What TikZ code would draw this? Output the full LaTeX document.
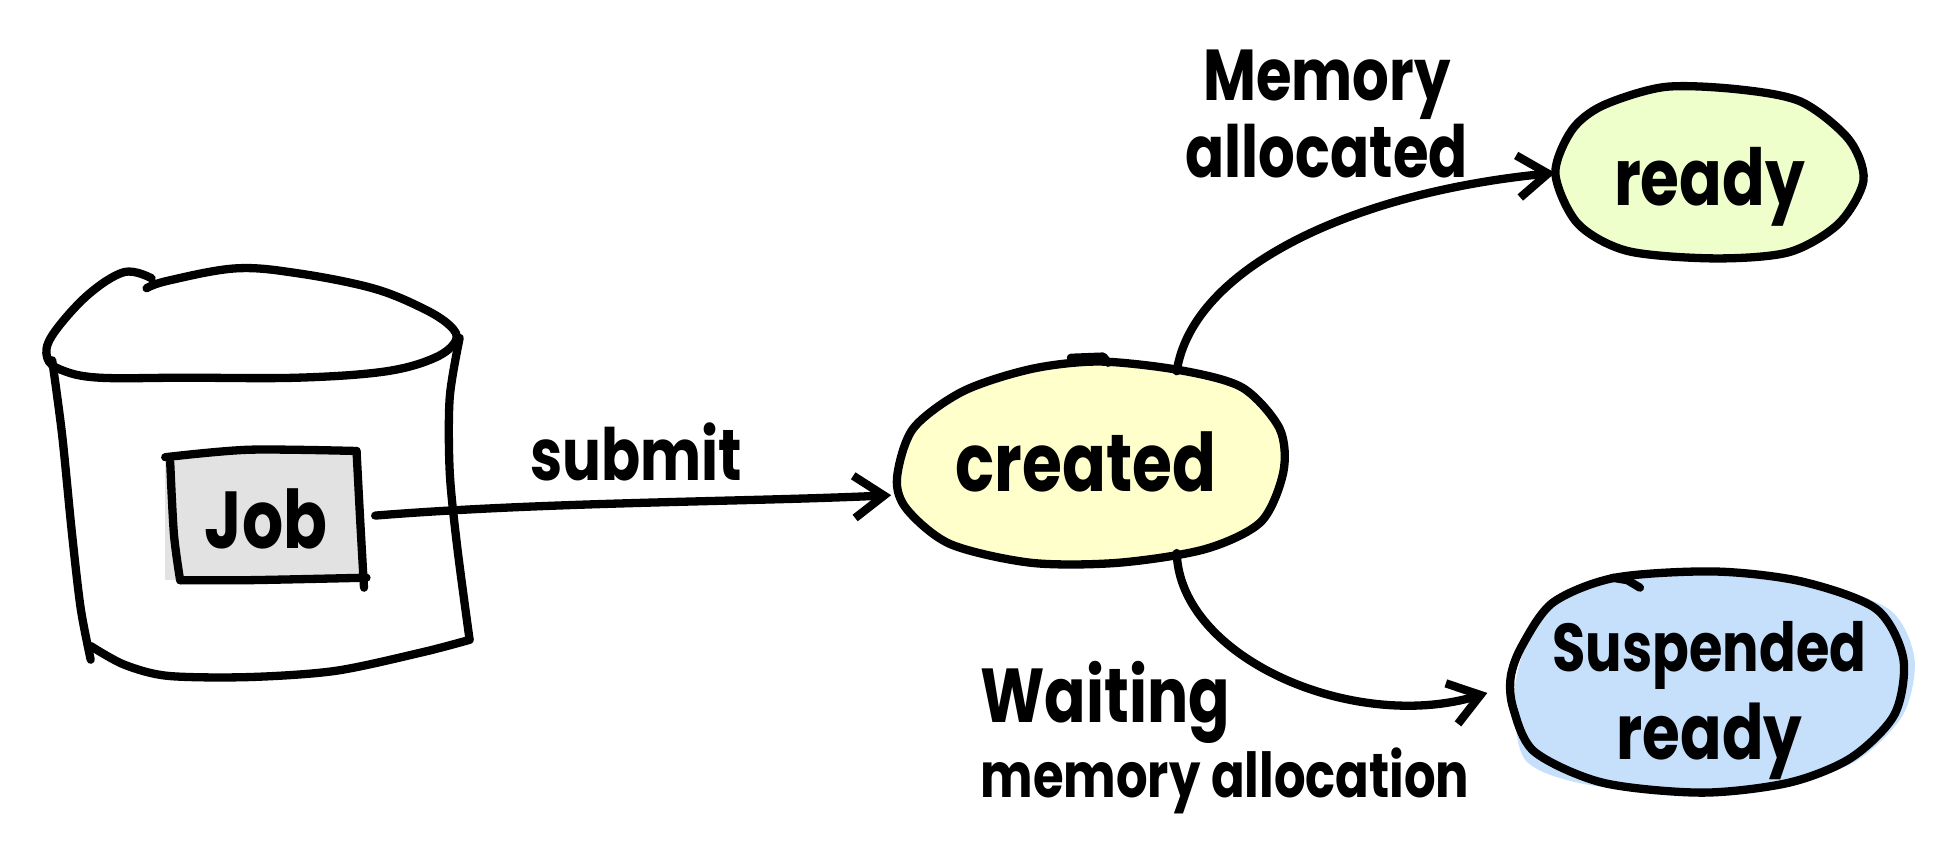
\documentclass[tikz,border=0pt]{standalone}
\usepackage{fontspec}
\setmainfont{Poppins}[FakeStretch=0.8]
\usepackage{tikz}
\usetikzlibrary{arrows.meta,shapes.geometric}
\definecolor{createdfill}{HTML}{FFFFCC}
\definecolor{readyfill}{HTML}{EEFFCC}
\definecolor{suspendfill}{HTML}{C6E0FB}
\definecolor{jobfill}{HTML}{E2E2E2}
\tikzset{
	ink/.style={line width=1.9pt, line cap=round, line join=round},
	statenode/.style={ellipse, inner sep=0pt, align=center, font=\fontsize{18.5}{20}\selectfont\bfseries},
	inklabel/.style={inner sep=0pt, font=\fontsize{16.5}{14.5}\selectfont\bfseries},
	arrowink/.style={ink, -{Straight Barb[length=2.4mm,width=3.4mm,line width=1.9pt]}}
}
\begin{document}
\begin{tikzpicture}[x=0.01cm, y=-0.01cm]
	\useasboundingbox (0,0) rectangle (1568,687);
	\draw[ink] plot[smooth, tension=0.6] coordinates {(118,232) (135,226) (190,216) (240,220) (300,232) (340,248) (362,262) (367,274) (350,288) (310,299) (240,304) (150,304) (80,304) (50,298) (38,288) (42,270) (70,238) (100,219) (122,224)};
	\draw[ink] plot[smooth] coordinates {(42,290) (50,350) (58,430) (65,490) (73,531)};
	\draw[ink] plot[smooth] coordinates {(73,520) (100,535) (135,544) (200,545) (270,540) (340,525) (378,515)};
	\draw[ink] plot[smooth] coordinates {(370,272) (362,320) (362,380) (368,440) (378,515)};
	\fill[createdfill] plot[smooth cycle] coordinates {(722,385) (735,345) (775,315) (830,297) (885,291) (950,298) (1000,312) (1030,345) (1033,380) (1015,420) (970,442) (900,453) (830,453) (765,438) (730,410)};
	\draw[ink] plot[smooth cycle] coordinates {(722,385) (735,345) (775,315) (830,297) (885,291) (950,298) (1000,312) (1030,345) (1033,380) (1015,420) (970,442) (900,453) (830,453) (765,438) (730,410)};
	\draw[ink] (862,288) -- (888,287) -- (892,292);
	\fill[readyfill] plot[smooth cycle] coordinates {(1252,140) (1265,105) (1290,85) (1340,70) (1400,72) (1450,82) (1488,112) (1500,145) (1480,180) (1440,203) (1380,208) (1310,202) (1270,180)};
	\draw[ink] plot[smooth cycle] coordinates {(1252,140) (1265,105) (1290,85) (1340,70) (1400,72) (1450,82) (1488,112) (1500,145) (1480,180) (1440,203) (1380,208) (1310,202) (1270,180)};
	\fill[suspendfill] plot[smooth cycle] coordinates {(1219,560) (1228,520) (1250,485) (1300,465) (1380,460) (1450,466) (1520,490) (1541,530) (1532,575) (1495,612) (1440,632) (1370,638) (1280,632) (1228,612)};
	\draw[ink] plot[smooth cycle] coordinates {(1216,545) (1225,520) (1250,485) (1300,465) (1380,460) (1450,468) (1510,490) (1532,530) (1525,575) (1490,610) (1440,630) (1370,638) (1290,630) (1235,605) (1218,570)};
	\draw[ink] (1298,465) -- (1310,467) -- (1320,473);
	\fill[jobfill] (133,365) rectangle (290,467);
	\draw[ink] plot[smooth] coordinates {(133,368) (200,362) (287,363)};
	\draw[ink] plot[smooth] coordinates {(287,363) (290,420) (293,473)};
	\draw[ink] plot[smooth] coordinates {(145,467) (200,467) (295,465)};
	\draw[ink] plot[smooth] coordinates {(137,372) (140,430) (145,467)};
	\node[statenode, shape=rectangle, minimum width=1.57cm, minimum height=1.02cm] (job) at (214,418) {Job};
	\node[statenode, minimum width=3.12cm, minimum height=1.64cm] (created) at (874,372) {created};
	\node[statenode, minimum width=2.5cm, minimum height=1.4cm] (ready) at (1376,150) {\fontsize{18}{20}\selectfont ready};
	\node[statenode, minimum width=3.2cm, minimum height=1.78cm] (suspended) at (1376,564) {\fontsize{15.5}{20}\selectfont Suspended\\\fontsize{17.5}{20}\selectfont ready};
	\node[inklabel] (submitlabel) at (512,364) {submit};
	\node[inklabel, align=center] (memorylabel) at (1068,92) {Memory\\allocated};
	\node[inklabel, align=left, font=\fontsize{14.2}{13.5}\selectfont\bfseries] (waitinglabel) at (986,594) {{\fontsize{17.5}{13.5}\selectfont Waiting}\\memory allocation};
	\coordinate (jobout) at (302,415);
	\draw[arrowink, shorten >=0.8mm] (jobout) .. controls (440,404) and (600,404) .. (created.190);
	\draw[arrowink] (created.45) .. controls (960,215) and (1090,155) .. (ready.175);
	\draw[arrowink] (created.-45) .. controls (950,530) and (1090,590) .. (suspended.178);
\end{tikzpicture}
\end{document}
